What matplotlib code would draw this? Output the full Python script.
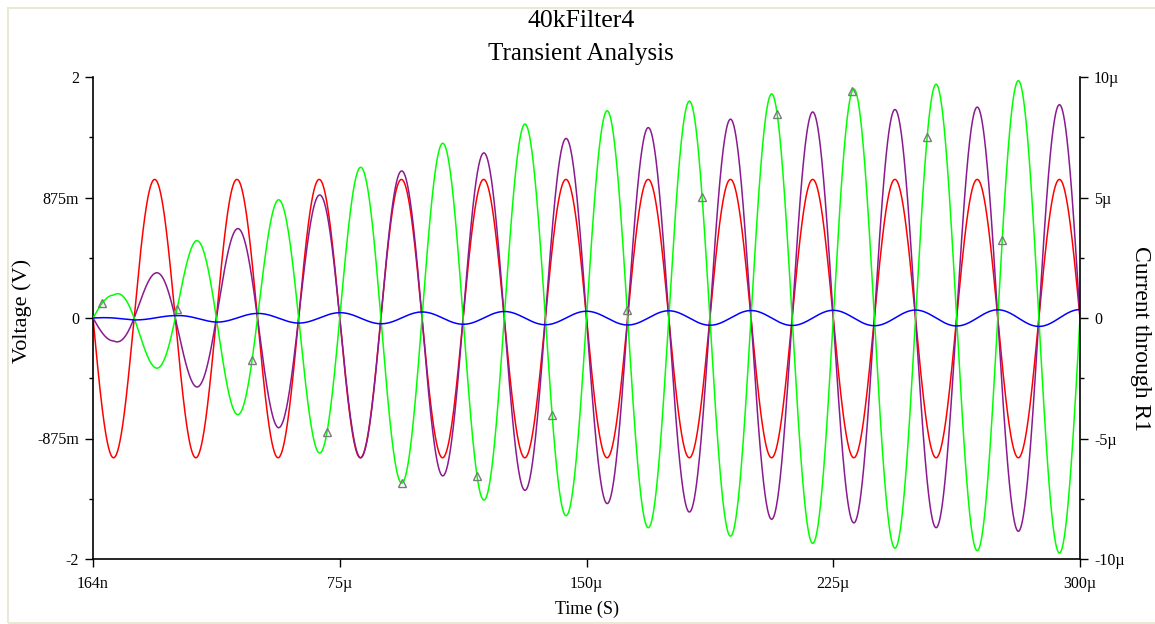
import numpy as np
import matplotlib.pyplot as plt
from matplotlib.ticker import MultipleLocator
from matplotlib.patches import Rectangle

plt.rcParams['font.family'] = ['Liberation Serif', 'DejaVu Serif']

# 40 kHz drive, time axis in microseconds
FREQ_KHZ = 40.0
t_us = np.arange(0, 300.001, 0.05)

# half-cycle extremes (one every 12.5 us), volts
green_pk = [0.19, -0.41, 0.64, -0.80, 0.98, -1.12, 1.25, -1.37, 1.45, -1.51, 1.61, -1.64,
            1.72, -1.74, 1.80, -1.81, 1.86, -1.87, 1.90, -1.91, 1.94, -1.93, 1.97, -1.95]
purple_pk = [-0.19, 0.37, -0.57, 0.74, -0.91, 1.02, -1.16, 1.22, -1.31, 1.37, -1.43, 1.49,
             -1.54, 1.58, -1.61, 1.65, -1.67, 1.71, -1.70, 1.73, -1.74, 1.75, -1.77, 1.77]
red_pk = [-1.16, 1.15] * 12
# current through R1, micro-amps
blue_pk = [-0.08, 0.10, -0.17, 0.19, -0.21, 0.22, -0.24, 0.25, -0.26, 0.27, -0.28, 0.28,
           -0.29, 0.30, -0.30, 0.31, -0.31, 0.32, -0.32, 0.33, -0.33, 0.34, -0.35, 0.35]

xtick_vals = [0, 75, 150, 225, 300]
xtick_labels = ['164n', '75\u00b5', '150\u00b5', '225\u00b5', '300\u00b5']
ytick_vals = [-2, -1, 0, 1, 2]
ytick_labels = ['-2', '-875m', '0', '875m', '2']
y2tick_vals = [-10, -5, 0, 5, 10]
y2tick_labels = ['-10\u00b5', '-5\u00b5', '0', '5\u00b5', '10\u00b5']

w = 2 * np.pi * FREQ_KHZ / 1000.0  # rad per us
half = 1000.0 / FREQ_KHZ / 2       # half period, us


def wave(pk, first_t, carrier, start_zero=False):
    te = first_t + half * np.arange(len(pk))
    amp = np.abs(pk)
    if start_zero:
        te = np.concatenate([[0.0], te])
        amp = np.concatenate([[0.0], amp])
    return np.interp(t_us, te, amp) * carrier


green = wave(green_pk, half / 2, np.sin(w * t_us))
purple = wave(purple_pk, half / 2, -np.sin(w * t_us))
red = wave(red_pk, half / 2, -np.sin(w * t_us))
blue = wave(blue_pk, half, np.cos(w * t_us), start_zero=True)

fig = plt.figure(figsize=(11.55, 6.24), dpi=100)
fig.patch.set_facecolor('white')
ax = fig.add_axes([93 / 1155, 1 - 559 / 624, (1080 - 93) / 1155, (559 - 77) / 624])
ax2 = ax.twinx()

ax.plot(t_us, red, color='#ff0000', lw=1.1, zorder=2)
ax.plot(t_us, purple, color='#8a1a8f', lw=1.1, zorder=3)
ax.plot(t_us, green, color='#00ff00', lw=1.1, zorder=4,
        marker='^', markevery=slice(55, 55 + 456 * 12 + 1, 456), markersize=6,
        markerfacecolor='none', markeredgecolor='#7a7a7a', markeredgewidth=1)
ax2.plot(t_us, blue, color='#0000ff', lw=1.1)

ax.set_xlim(0, 300)
ax.set_ylim(-2, 2)
ax2.set_ylim(-10, 10)
ax.set_xticks(xtick_vals)
ax.set_xticklabels(xtick_labels)
ax.set_yticks(ytick_vals)
ax.set_yticklabels(ytick_labels)
ax2.set_yticks(y2tick_vals)
ax2.set_yticklabels(y2tick_labels)
ax.yaxis.set_minor_locator(MultipleLocator(0.5))
ax2.yaxis.set_minor_locator(MultipleLocator(2.5))

for a in (ax, ax2):
    a.set_facecolor('none')
    a.spines['top'].set_visible(False)
    for s in a.spines.values():
        s.set_linewidth(1.2)
    a.tick_params(which='major', direction='out', length=6, width=1, labelsize=11.5, pad=4)
    a.tick_params(which='minor', direction='out', length=3, width=1)
ax.tick_params(axis='x', pad=6)
ax.spines['right'].set_visible(False)
ax2.spines['left'].set_visible(False)
ax2.spines['bottom'].set_visible(False)

fig.text(581 / 1155, 1 - 21 / 624, '40kFilter4', ha='center', va='center', fontsize=18.5)
fig.text(581 / 1155, 1 - 54 / 624, 'Transient Analysis', ha='center', va='center', fontsize=18)
fig.text(587 / 1155, 1 - 609 / 624, 'Time (S)', ha='center', va='center', fontsize=13)
fig.text(22 / 1155, 1 - 311 / 624, 'Voltage (V)', ha='center', va='center', rotation=90, fontsize=16)
fig.text(1141 / 1155, 1 - 339 / 624, 'Current through R1', ha='center', va='center',
         rotation=270, fontsize=17)

fig.patches.append(Rectangle((8 / 1155, 1 / 624), 1, 1 - 9 / 624, transform=fig.transFigure,
                             fill=False, edgecolor='#ebe8d6', lw=1.5))

fig.savefig('out.png', dpi=100)
